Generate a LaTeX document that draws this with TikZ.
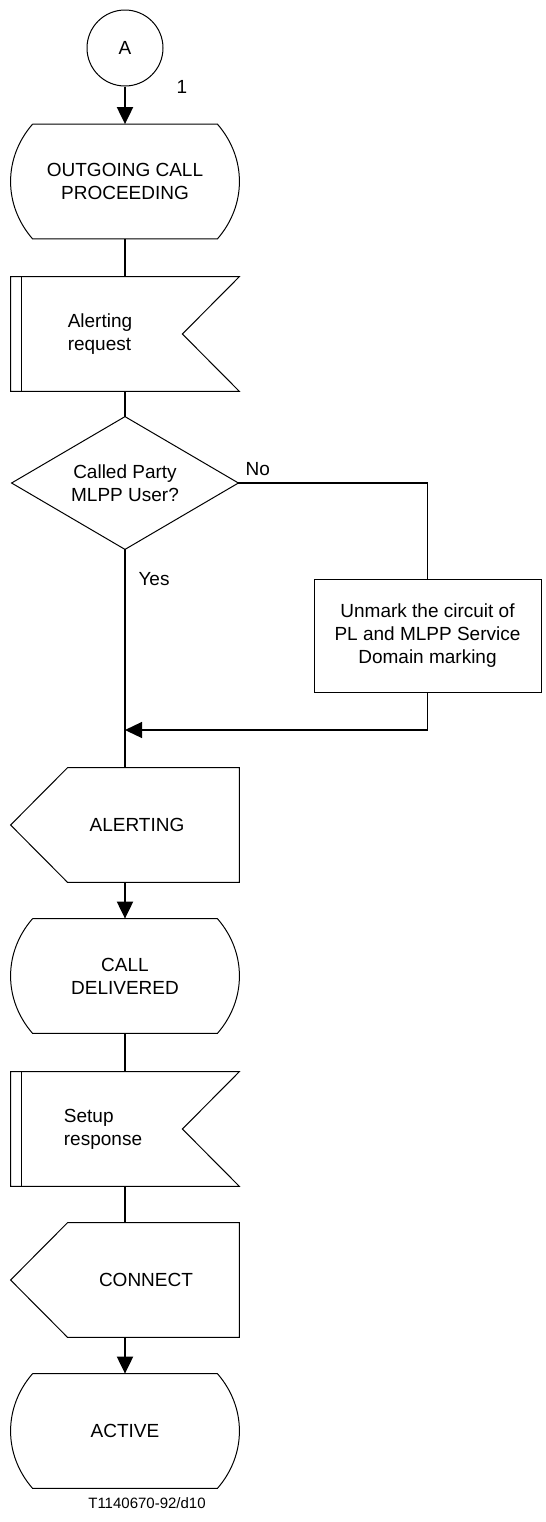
\documentclass[tikz,border=0pt]{standalone}
\usepackage{fontspec}
\setmainfont{Liberation Sans}
\usetikzlibrary{arrows.meta}
\begin{document}
\begin{tikzpicture}[x=0.5pt,y=0.5pt,font=\fontsize{9.5}{11.5}\selectfont]
% Dimensions Modifiables
\def\Lrg{114pt}
\def\Ht{57pt}
\def\LrgEtat{92pt}
\def\Pli{28.5pt}
\def\Bord{5.35pt}
\def\Bombe{41}
% Styles
\tikzstyle{cadre}=[line width=0.5pt]
\tikzstyle{trait}=[line width=1pt]
\tikzstyle{branche}=[line width=0.6pt]
\tikzstyle{pointe}=[-{Triangle[length=8.5pt,width=8pt]}]
\tikzstyle{fleche}=[trait,pointe]
\tikzstyle{forme}=[inner sep=0pt,minimum width=\Lrg,minimum height=\Ht,align=center]
\tikzstyle{etat}=[forme,minimum width=\LrgEtat]
\tikzstyle{tache}=[forme,draw,cadre,minimum width=113.5pt,minimum height=56.5pt]
\tikzstyle{connecteur}=[circle,draw,cadre,minimum size=38pt,inner sep=0pt]
% Cadre de la figure
\useasboundingbox (0,0) rectangle (546,-1522);
% Connecteur d'entree
\node[connecteur] (A) at (125,-48) {A};
\node (num) at (182,-87) {1};
% Colonne principale
\node[etat] (s1) at (125,-181.5) {OUTGOING CALL\\PROCEEDING};
\node[forme,label={[xshift=-12.5pt,align=left]center:Alerting\\request}] (in1) at (125,-334) {};
\node[forme,minimum width=113pt,minimum height=66pt] (dec) at (125,-483) {Called Party\\MLPP User?};
\node[forme,label={[xshift=6pt]center:ALERTING}] (out1) at (125,-825) {};
\node[etat] (s2) at (125,-976) {CALL\\DELIVERED};
\node[forme,label={[xshift=-11pt,align=left]center:Setup\\response}] (in2) at (125,-1129) {};
\node[forme,label={[xshift=10.5pt]center:CONNECT}] (out2) at (125,-1280) {};
\node[etat] (s3) at (125,-1431) {ACTIVE};
% Branche No
\node[tache] (unmark) at (427.5,-635.5) {Unmark the circuit of\\PL and MLPP Service\\Domain marking};
\coordinate (jonction) at (125,-730);
\node (oui) at (154,-579) {Yes};
% Reference
\node[font=\fontsize{7.5}{9}\selectfont] (ref) at (147,-1503) {T1140670-92/d10};
% Etats
\foreach \s in {s1,s2,s3}
  \draw[cadre] (\s.north west) -- (\s.north east) to[bend left=\Bombe] (\s.south east)
    -- (\s.south west) to[bend left=\Bombe] (\s.north west);
% Entrees
\foreach \e in {in1,in2} {
  \draw[cadre] (\e.north west) -- (\e.north east) -- ([xshift=-\Pli]\e.east)
    -- (\e.south east) -- (\e.south west) -- cycle;
  \draw[cadre] ([xshift=\Bord]\e.north west) -- ([xshift=\Bord]\e.south west);
}
% Sorties
\foreach \o in {out1,out2}
  \draw[cadre] (\o.north east) -- (\o.south east) -- ([xshift=\Pli]\o.south west)
    -- (\o.west) -- ([xshift=\Pli]\o.north west) -- cycle;
% Decision
\draw[cadre] (dec.north) -- (dec.east) -- (dec.south) -- (dec.west) -- cycle;
% Liaisons
\draw[fleche] (A) -- (s1);
\draw[trait] (s1) -- (in1);
\draw[trait] (in1) -- (dec.north);
\draw[trait] (dec.south) -- (out1);
\draw[branche] (dec.east) node[above right] (non) {No} -| (unmark.north);
\draw[branche,pointe] (unmark.south) |- (jonction);
\draw[fleche] (out1) -- (s2);
\draw[trait] (s2) -- (in2);
\draw[trait] (in2) -- (out2);
\draw[fleche] (out2) -- (s3);
\end{tikzpicture}
\end{document}
